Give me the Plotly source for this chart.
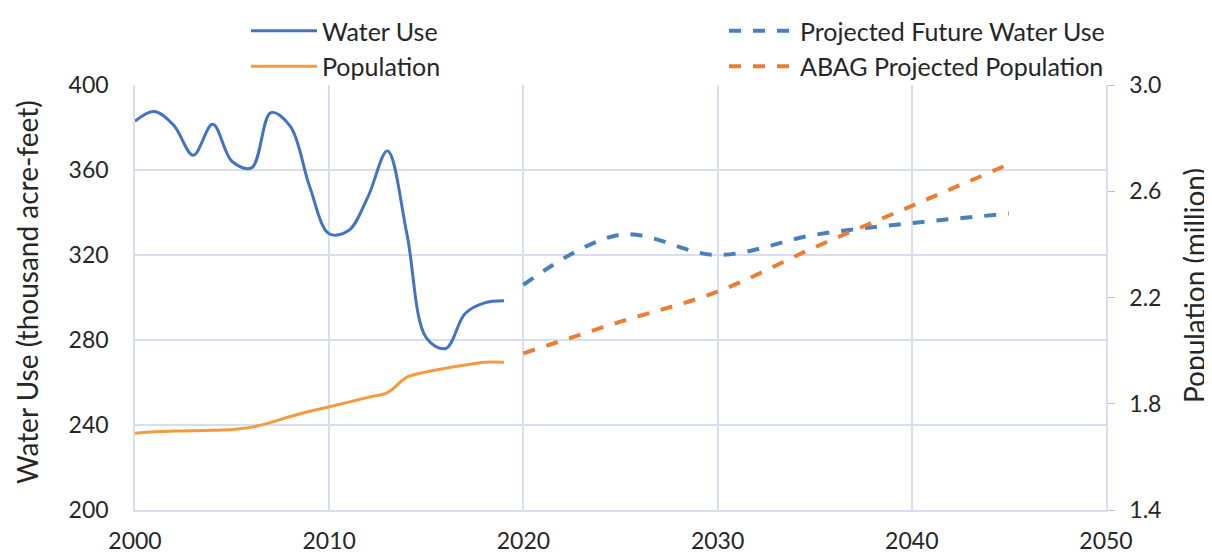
import plotly.graph_objects as go

# historic water use (thousand acre-feet), annual
years_hist = list(range(2000, 2020))
water_use = [383, 387.5, 381, 367, 381.5, 364, 361, 387, 380.5, 352,
             330, 331.5, 347.5, 369, 330, 281, 276, 292.5, 297.5, 298.5]

# historic population (million)
population = [1.689, 1.695, 1.697, 1.698, 1.700, 1.703, 1.712, 1.730, 1.752, 1.772,
              1.789, 1.806, 1.824, 1.842, 1.900, 1.920, 1.934, 1.946, 1.956, 1.956]

# projections, 5-year steps
years_proj = [2020, 2025, 2030, 2035, 2040, 2045]
water_proj = [306, 329.5, 320, 329.5, 335, 339.5]
pop_proj = [1.99, 2.109, 2.222, 2.389, 2.545, 2.702]

grid = "#D6DFF0"
font = "Lato"

# page body has an 8px margin, so the figure is drawn 8px in from the corner
W, H, off = 1212 - 8, 559 - 8, 8
L, R, T, B = 135, 106, 85, 49
plot_w = 1212 - L - R
plot_h = 559 - T - B

fig = go.Figure()
fig.add_trace(go.Scatter(
    x=years_hist, y=water_use, name="Water Use", mode="lines",
    legend="legend", legendgroup="a",
    line=dict(color="#4472C4", width=3, shape="spline"),
))
fig.add_trace(go.Scatter(
    x=years_hist, y=population, name="Population", mode="lines", yaxis="y2",
    legend="legend", legendgroup="b",
    line=dict(color="#F79A3E", width=3, shape="spline"),
))
fig.add_trace(go.Scatter(
    x=years_proj, y=water_proj, name="Projected Future Water Use", mode="lines",
    legend="legend2", legendgroup="c",
    line=dict(color="#4A7EC0", width=4, dash="dash", shape="spline"),
))
fig.add_trace(go.Scatter(
    x=years_proj, y=pop_proj, name="ABAG Projected Population", mode="lines", yaxis="y2",
    legend="legend2", legendgroup="d",
    line=dict(color="#ED7D31", width=4, dash="dash", shape="spline"),
))

leg = dict(
    orientation="v", xref="container", yref="paper",
    y=1 + (T - off) / plot_h, xanchor="left", yanchor="top",
    font=dict(size=25), tracegroupgap=0, itemwidth=66,
    traceorder="grouped", bgcolor="rgba(0,0,0,0)",
)

fig.update_layout(
    width=W, height=H,
    margin=dict(l=L - off, r=R, t=T - off, b=B, autoexpand=False),
    plot_bgcolor="white", paper_bgcolor="white",
    font=dict(family=font, size=23, color="#262626"),
    showlegend=True,
    legend=dict(leg, x=(246 - off) / W),
    legend2=dict(leg, x=(724 - off) / W),
    xaxis=dict(
        range=[2000, 2050], dtick=10, tick0=2000,
        showgrid=True, gridcolor=grid, gridwidth=1.5,
        showline=True, linecolor=grid, linewidth=1.5,
        zeroline=False, ticks="", ticklabelstandoff=10,
    ),
    yaxis=dict(
        range=[200, 400], dtick=40, tick0=200,
        showgrid=True, gridcolor=grid, gridwidth=1.5,
        showline=True, linecolor=grid, linewidth=1.5,
        zeroline=False, ticks="", ticklabelstandoff=20,
    ),
    yaxis2=dict(
        overlaying="y", side="right",
        range=[1.4, 3.0], dtick=0.4, tick0=1.4, tickformat=".1f",
        showgrid=False, zeroline=False,
        showline=True, linecolor=grid, linewidth=1.5,
        ticks="outside", ticklen=7, tickcolor="#BFBFBF", ticklabelstandoff=10,
    ),
    annotations=[
        dict(text="Water Use (thousand acre-feet)", textangle=-90,
             xref="paper", yref="paper", xanchor="center", yanchor="middle",
             x=(27 - L) / plot_w, y=(510 - 292) / plot_h,
             showarrow=False, font=dict(size=28)),
        dict(text="Population (million)", textangle=-90,
             xref="paper", yref="paper", xanchor="center", yanchor="middle",
             x=(1194 - L) / plot_w, y=(510 - 286) / plot_h,
             showarrow=False, font=dict(size=28)),
    ],
)

fig.write_html("out.html")
